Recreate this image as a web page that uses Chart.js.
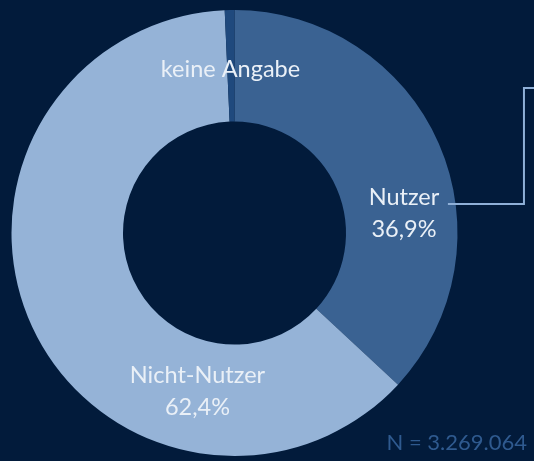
<!DOCTYPE html>
<html>
<head>
<meta charset="utf-8">
<script src="https://cdn.jsdelivr.net/npm/chart.js@4/dist/chart.umd.min.js"></script>
<style>
  html, body { margin: 0; padding: 0; background: #021b3b; }
  #wrap { width: 534px; height: 461px; }
</style>
</head>
<body>
<div id="wrap"><canvas id="c" width="534" height="461"></canvas></div>
<script>
// ---- data ----
const categories = ["Nutzer", "Nicht-Nutzer", "keine Angabe"];
const shares = [36.9, 62.4, 0.7];
const shareLabels = ["36,9%", "62,4%", ""];
const sampleNote = "N = 3.269.064";

// ---- styling ----
const sliceColors = ["#3a6292", "#95b3d7", "#1f497d"];
const bgColor = "#021b3b";
const textColor = "#eaf0f7";
const noteColor = "#2f5a8f";
const lineColor = "#8fb0d8";
const fontFamily = "Lato, 'Open Sans', sans-serif";
// label anchors, in units of the outer radius relative to the centre
const labelAnchors = [[0.760, -0.090], [-0.166, 0.709], [-0.018, -0.735]];

const labelPlugin = {
  id: 'labels',
  beforeDraw(chart) {
    const ctx = chart.ctx;
    ctx.save();
    ctx.fillStyle = bgColor;
    ctx.fillRect(0, 0, chart.width, chart.height);
    ctx.restore();
  },
  afterDraw(chart) {
    const ctx = chart.ctx;
    const arcs = chart.getDatasetMeta(0).data;
    const a0 = arcs[0];
    const cx = a0.x, cy = a0.y, R = a0.outerRadius;
    ctx.save();
    // connector line from Nutzer label
    ctx.strokeStyle = lineColor;
    ctx.lineWidth = 2;
    ctx.beginPath();
    ctx.moveTo(cx + 0.957 * R, cy - 0.130 * R);
    ctx.lineTo(cx + 1.298 * R, cy - 0.130 * R);
    ctx.lineTo(cx + 1.298 * R, cy - 0.650 * R);
    ctx.lineTo(chart.width + 2, cy - 0.650 * R);
    ctx.stroke();

    ctx.fillStyle = textColor;
    ctx.font = "23.5px " + fontFamily;
    ctx.textAlign = "center";
    ctx.textBaseline = "middle";
    const lh = 32;
    categories.forEach((name, i) => {
      const [fx, fy] = labelAnchors[i];
      const x = cx + fx * R, y = cy + fy * R;
      if (shareLabels[i]) {
        ctx.fillText(name, x, y - lh / 2);
        ctx.fillText(shareLabels[i], x, y + lh / 2);
      } else {
        ctx.fillText(name, x, y);
      }
    });
    ctx.fillStyle = noteColor;
    ctx.font = "22px " + fontFamily;
    ctx.textAlign = "right";
    ctx.textBaseline = "alphabetic";
    ctx.fillText(sampleNote, 527, 450);
    ctx.restore();
  }
};

new Chart(document.getElementById('c'), {
  type: 'doughnut',
  data: {
    labels: categories,
    datasets: [{
      data: shares,
      backgroundColor: sliceColors,
      borderWidth: 0,
      hoverOffset: 0
    }]
  },
  options: {
    responsive: false,
    animation: false,
    cutout: '50%',
    layout: { padding: { left: 11.5, right: 76.5, top: 10, bottom: 5 } },
    plugins: { legend: { display: false }, tooltip: { enabled: false } }
  },
  plugins: [labelPlugin]
});
</script>
</body>
</html>
